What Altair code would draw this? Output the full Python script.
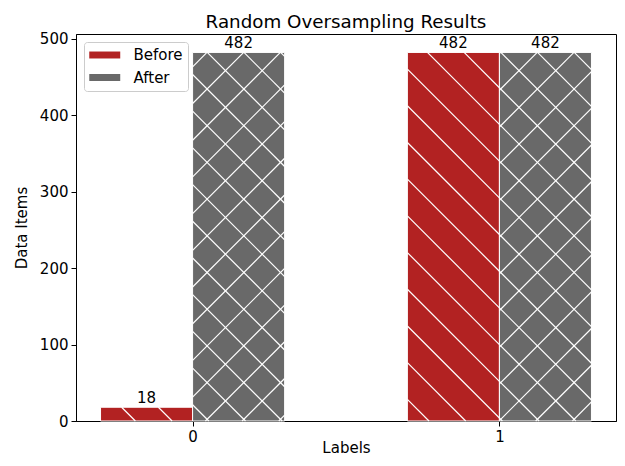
import altair as alt
import pandas as pd
import math

# ---- data ----
labels = [0, 1]
before = [18, 482]
after = [482, 482]
series_names = ["Before", "After"]
series_colors = ["#b22222", "#696969"]
title_text = "Random Oversampling Results"
x_title = "Labels"
y_title = "Data Items"

# ---- layout / style constants ----
W, H = 540, 387
PAD = {"left": 68, "top": 26, "right": 1, "bottom": 36}
X_DOMAIN = [-0.38, 1.38]
Y_DOMAIN = [0, 506.1]
BAR_W = 0.3
OFFSETS = {"Before": -0.3, "After": 0.0}
HATCH = {"Before": ["back"], "After": ["back", "fwd"]}
HATCH_S = 36.7          # hatch spacing (px, horizontal)
PHASE_BACK = 8.0        # x - y phase (page px)
PHASE_FWD = 2.5         # x + y phase (page px)
FONT = "DejaVu Sans"

rows = []
for i, lab in enumerate(labels):
    for name, vals in zip(series_names, [before, after]):
        x0 = lab + OFFSETS[name]
        rows.append(dict(label=lab, series=name, value=vals[i],
                         x0=x0, x1=x0 + BAR_W, xc=x0 + BAR_W / 2))
df = pd.DataFrame(rows)

# ---- hatch segments, derived from bar geometry ----
OX = 8 + PAD["left"]
OY = 8 + PAD["top"]
XS = X_DOMAIN[1] - X_DOMAIN[0]
YS = Y_DOMAIN[1] - Y_DOMAIN[0]


def px(u):
    return OX + (u - X_DOMAIN[0]) / XS * W


def py(v):
    return OY + (Y_DOMAIN[1] - v) / YS * H


def ux(p):
    return X_DOMAIN[0] + (p - OX) / W * XS


def vy(p):
    return Y_DOMAIN[1] - (p - OY) / H * YS


segs = []
for r in rows:
    X0, X1 = px(r["x0"]), px(r["x1"])
    Y0, Y1 = py(r["value"]), py(0)
    for fam in HATCH[r["series"]]:
        if fam == "back":
            lo, hi = X0 - Y1, X1 - Y0
            k0 = math.floor((lo - PHASE_BACK) / HATCH_S)
            k1 = math.ceil((hi - PHASE_BACK) / HATCH_S)
            for k in range(k0, k1 + 1):
                c = PHASE_BACK + k * HATCH_S
                xs, xe = max(X0, Y0 + c), min(X1, Y1 + c)
                if xe - xs > 0.5:
                    segs.append(dict(hx=ux(xs), hy=vy(xs - c), hx2=ux(xe), hy2=vy(xe - c)))
        else:
            lo, hi = X0 + Y0, X1 + Y1
            k0 = math.floor((lo - PHASE_FWD) / HATCH_S)
            k1 = math.ceil((hi - PHASE_FWD) / HATCH_S)
            for k in range(k0, k1 + 1):
                c = PHASE_FWD + k * HATCH_S
                xs, xe = max(X0, c - Y1), min(X1, c - Y0)
                if xe - xs > 0.5:
                    segs.append(dict(hx=ux(xs), hy=vy(c - xs), hx2=ux(xe), hy2=vy(c - xe)))
hatch_df = pd.DataFrame(segs)

xscale = alt.Scale(domain=X_DOMAIN, nice=False, zero=False)
yscale = alt.Scale(domain=Y_DOMAIN, nice=False, zero=False)

bars = alt.Chart(df).mark_bar(stroke="white", strokeWidth=1, opacity=1).encode(
    x=alt.X("x0:Q", scale=xscale,
            axis=alt.Axis(values=labels, format="d", title=x_title,
                          titleY=31, titleBaseline="alphabetic")),
    x2="x1:Q",
    y=alt.Y("value:Q", scale=yscale,
            axis=alt.Axis(values=[0, 100, 200, 300, 400, 500], title=y_title,
                          titleX=-55, titleY=H / 2, titleAngle=270,
                          titleBaseline="middle", titleAlign="center")),
    y2=alt.datum(0),
    color=alt.Color("series:N",
                    scale=alt.Scale(domain=series_names, range=series_colors),
                    legend=alt.Legend(title=None, orient="none", legendX=8, legendY=8,
                                      symbolType="M-1,-0.45H3V0.45H-1Z", symbolSize=240,
                                      symbolStrokeWidth=0, symbolOpacity=1,
                                      labelFont=FONT, labelFontSize=15, labelColor="black",
                                      labelOffset=28.5, padding=5, rowPadding=6.5,
                                      strokeColor="#cccccc", fillColor="white",
                                      cornerRadius=3)),
)

hatch = alt.Chart(hatch_df).mark_rule(color="white", strokeWidth=1.2).encode(
    x=alt.X("hx:Q", scale=xscale),
    x2="hx2:Q",
    y=alt.Y("hy:Q", scale=yscale),
    y2="hy2:Q",
)

text = alt.Chart(df).mark_text(font=FONT, fontSize=15, baseline="alphabetic",
                               dy=-4, color="black").encode(
    x=alt.X("xc:Q", scale=xscale),
    y=alt.Y("value:Q", scale=yscale),
    text="value:Q",
)

chart = alt.layer(bars, hatch, text).properties(
    width=W, height=H,
    title=alt.TitleParams(title_text, font=FONT, fontSize=18.3, fontWeight="normal",
                          color="black", anchor="middle", frame="group", offset=7,
                          baseline="alphabetic", dy=22),
    autosize=alt.AutoSizeParams(type="none"),
    padding=PAD,
).configure_view(stroke="black", strokeWidth=1).configure_axis(
    domainColor="black", domainWidth=1, tickColor="black", tickWidth=1, tickSize=5,
    labelFont=FONT, labelFontSize=15, labelColor="black", labelPadding=3,
    titleFont=FONT, titleFontSize=15, titleFontWeight="normal", titleColor="black",
    grid=False,
)

chart.save("out.html", embed_options={"renderer": "svg", "actions": False})
